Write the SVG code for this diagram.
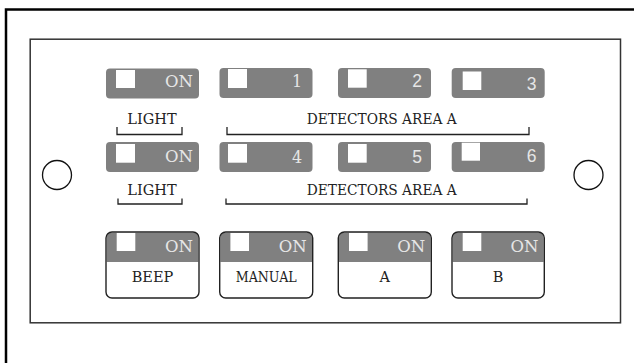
<svg xmlns="http://www.w3.org/2000/svg" width="634" height="363" viewBox="0 0 634 363">
<style>
.frame{fill:none;stroke:#000;stroke-width:2.5}
.panel{fill:#fff;stroke:#333;stroke-width:1.5}
.hole{fill:#fff;stroke:#111;stroke-width:1.3}
.sw{fill:#808080}
.sq{fill:#fff}
.on{font-family:"DejaVu Serif","Liberation Serif",serif;font-size:16.5px;fill:#e6e6e6;text-anchor:end}
.dig{font-family:"Liberation Sans","DejaVu Sans",sans-serif;font-size:17.5px;fill:#e6e6e6;text-anchor:middle}
.digs{font-family:"DejaVu Serif","Liberation Serif",serif;font-size:16px;fill:#e6e6e6;text-anchor:middle}
.lbl{font-family:"DejaVu Serif","Liberation Serif",serif;font-size:14.5px;fill:#222;text-anchor:middle}
.br{fill:none;stroke:#222;stroke-width:1.3}
.box{fill:#fff}
.bo{fill:none;stroke:#222;stroke-width:1.4}
</style>
<rect class="frame" x="6" y="9.5" width="700" height="500"/>
<rect class="panel" x="30.2" y="39.2" width="590.3" height="283.6"/>
<g id="hole-left"><circle class="hole" cx="57" cy="175" r="14.5"/></g>
<g id="hole-right"><circle class="hole" cx="588.5" cy="175" r="14.5"/></g>

<g id="light1"><rect class="sw" x="106" y="68.5" width="93" height="30" rx="4"/><rect class="sq" x="116" y="70" width="19" height="18"/><text class="on" x="193" y="87">ON</text></g>
<g id="det1"><rect class="sw" x="219.5" y="68" width="93" height="30" rx="4"/><rect class="sq" x="228" y="69" width="19" height="19"/><text class="digs" x="297" y="87">1</text></g>
<g id="det2"><rect class="sw" x="338" y="68" width="93" height="30" rx="4"/><rect class="sq" x="348" y="69.3" width="18.7" height="18.4"/><text class="dig" x="417" y="87">2</text></g>
<g id="det3"><rect class="sw" x="451.7" y="68" width="93" height="30" rx="4"/><rect class="sq" x="462.7" y="71.5" width="18.6" height="18.5"/><text class="dig" x="531.5" y="90">3</text></g>

<g id="label-light1"><text class="lbl" x="152" y="124">LIGHT</text><path class="br" d="M117,127 V134.5 H182 V127"/></g>
<g id="label-det1"><text class="lbl" x="381.7" y="124" textLength="150" lengthAdjust="spacingAndGlyphs">DETECTORS AREA A</text><path class="br" d="M227,127 V134.5 H529 V127"/></g>

<g id="light2"><rect class="sw" x="106" y="142" width="93" height="30" rx="4"/><rect class="sq" x="116" y="144" width="19" height="18.7"/><text class="on" x="193" y="162">ON</text></g>
<g id="det4"><rect class="sw" x="219.5" y="142" width="93" height="30" rx="4"/><rect class="sq" x="228" y="144" width="19" height="18.7"/><text class="digs" x="297" y="162.5">4</text></g>
<g id="det5"><rect class="sw" x="338" y="142" width="93" height="30" rx="4"/><rect class="sq" x="348" y="144" width="18.7" height="18.7"/><text class="dig" x="417" y="162.5">5</text></g>
<g id="det6"><rect class="sw" x="451.7" y="142" width="93" height="30" rx="4"/><rect class="sq" x="461.7" y="142.7" width="18.3" height="18"/><text class="dig" x="531.5" y="161.5">6</text></g>

<g id="label-light2"><text class="lbl" x="152" y="195">LIGHT</text><path class="br" d="M118,198.5 V204 H182 V198.5"/></g>
<g id="label-det2"><text class="lbl" x="381.7" y="195" textLength="150" lengthAdjust="spacingAndGlyphs">DETECTORS AREA A</text><path class="br" d="M226,198.5 V204 H527 V198.5"/></g>

<g id="beep"><rect class="box" x="106" y="232" width="93" height="66" rx="6"/><path class="sw" d="M106.7,262 V238 Q106.7,232.7 112,232.7 H193 Q198.3,232.7 198.3,238 V262 Z"/><rect class="sq" x="116.7" y="232.7" width="18.6" height="18.3"/><text class="on" x="193" y="251.7">ON</text><text class="lbl" x="152.5" y="281.7">BEEP</text><rect class="bo" x="106" y="232" width="93" height="66" rx="6"/></g>
<g id="manual"><rect class="box" x="219.7" y="232" width="93" height="66" rx="6"/><path class="sw" d="M220.4,262 V238 Q220.4,232.7 225.7,232.7 H306.7 Q312,232.7 312,238 V262 Z"/><rect class="sq" x="230.4" y="232.7" width="18.6" height="18.3"/><text class="on" x="306.7" y="251.7">ON</text><text class="lbl" x="266.2" y="281.7" textLength="61" lengthAdjust="spacingAndGlyphs">MANUAL</text><rect class="bo" x="219.7" y="232" width="93" height="66" rx="6"/></g>
<g id="a"><rect class="box" x="338.3" y="232" width="93" height="66" rx="6"/><path class="sw" d="M339,262 V238 Q339,232.7 344.3,232.7 H425.3 Q430.6,232.7 430.6,238 V262 Z"/><rect class="sq" x="349" y="232.7" width="18.6" height="18.3"/><text class="on" x="425.3" y="251.7">ON</text><text class="lbl" x="384.7" y="281.7">A</text><rect class="bo" x="338.3" y="232" width="93" height="66" rx="6"/></g>
<g id="b"><rect class="box" x="452" y="232" width="92.3" height="66" rx="6"/><path class="sw" d="M452.7,262 V238 Q452.7,232.7 458,232.7 H538.3 Q543.6,232.7 543.6,238 V262 Z"/><rect class="sq" x="462.7" y="232.7" width="18.6" height="18.3"/><text class="on" x="538.5" y="251.7">ON</text><text class="lbl" x="498.2" y="281.7">B</text><rect class="bo" x="452" y="232" width="92.3" height="66" rx="6"/></g>
</svg>
